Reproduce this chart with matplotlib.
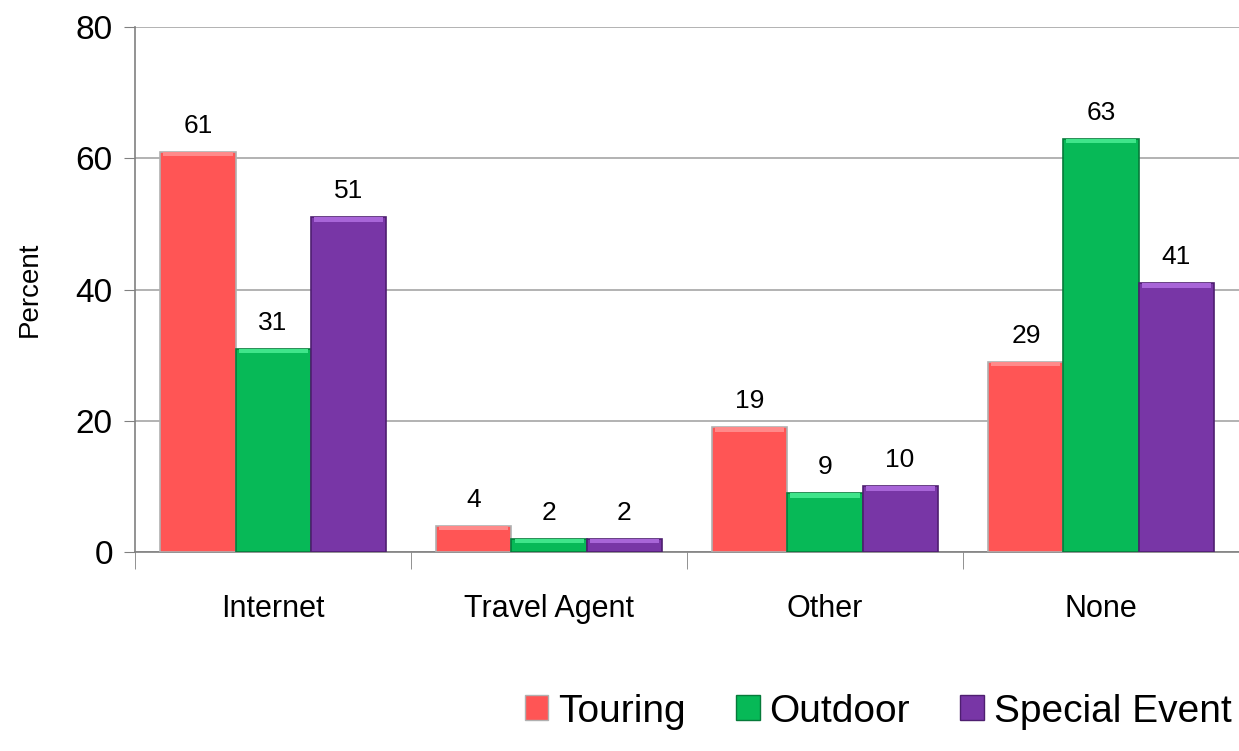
import numpy as np
import matplotlib.pyplot as plt
from matplotlib.patches import Patch

categories = ['Internet', 'Travel Agent', 'Other', 'None']
series = ['Touring', 'Outdoor', 'Special Event']
touring = [61, 4, 19, 29]
outdoor = [31, 2, 9, 63]
special = [51, 2, 10, 41]
yticks = [0, 20, 40, 60, 80]

colors = ['#FF5555', '#07B957', '#7836A6']
tops = ['#FF8A8A', '#3FE58A', '#A865D8']
edges = ['#B0B0B0', '#067A3A', '#4E1F70']

plt.rcParams['font.family'] = ['Liberation Sans', 'DejaVu Sans']

fig = plt.figure(figsize=(12.39, 7.51), dpi=100)
ax = fig.add_axes([0.109, 0.265, 0.891, 0.699])

x = np.arange(len(categories))
w = 0.272
bev = 0.7
for i, vals in enumerate([touring, outdoor, special]):
    pos = x + (i - 1) * w
    vals = np.array(vals)
    ax.bar(pos, vals, w, color=colors[i], edgecolor=edges[i], linewidth=1.2, zorder=3)
    # light bevel strip along the top of each bar
    ax.bar(pos, np.minimum(bev, vals * 0.3), w * 0.92, bottom=vals - np.minimum(bev, vals * 0.3),
           color=tops[i], linewidth=0, zorder=4)
    for p, v in zip(pos, vals):
        ax.annotate(str(v), (p, v), xytext=(0, 10), textcoords='offset points',
                    ha='center', va='bottom', fontsize=19)

ax.set_xlim(-0.5, len(categories) - 0.5)
ax.set_ylim(0, 80)
ax.set_yticks(yticks)
ax.tick_params(axis='y', labelsize=24, length=8, color='#808080', pad=8)
ax.set_xticks(x)
ax.set_xticklabels(categories, fontsize=22)
ax.tick_params(axis='x', length=0, pad=30)
ax.set_xticks(np.arange(len(categories) + 1) - 0.5, minor=True)
ax.tick_params(axis='x', which='minor', length=12, color='#808080')
ax.grid(axis='y', color='#A6A6A6', linewidth=1.2, zorder=0)
ax.set_ylabel('Percent', fontsize=20, labelpad=24)

for s in ['top', 'right']:
    ax.spines[s].set_visible(False)
ax.spines['left'].set_color('#808080')
ax.spines['bottom'].set_color('#808080')
ax.spines['left'].set_linewidth(1.2)
ax.spines['bottom'].set_linewidth(1.2)

handles = [Patch(facecolor=colors[i], edgecolor=edges[i]) for i in range(3)]
fig.legend(handles, series, loc='lower right', bbox_to_anchor=(1.022, -0.018), ncol=3,
           frameon=False, prop={'size': 28},
           handlelength=0.6, handleheight=0.6, handletextpad=0.25, columnspacing=1.3)

fig.savefig('out.png', dpi=100)
